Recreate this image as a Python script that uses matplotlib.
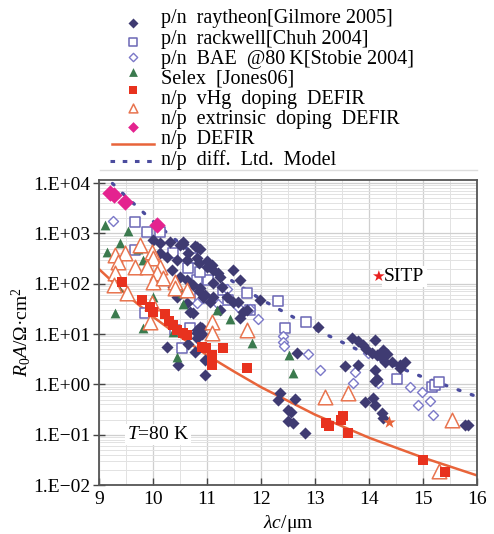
import numpy as np
import matplotlib.pyplot as plt
from matplotlib.ticker import MultipleLocator, LogLocator, NullFormatter

plt.rcParams['font.family'] = ['Liberation Serif', 'DejaVu Sans']
plt.rcParams['mathtext.fontset'] = 'custom'
plt.rcParams['mathtext.rm'] = 'Liberation Serif'
plt.rcParams['mathtext.it'] = 'Liberation Serif:italic'

# ---- data (lambda_c in um, R0A in Ohm cm^2) ----
raytheon_x = [10.0, 10.13, 10.31, 10.5, 10.56, 10.81, 10.87, 10.13, 10.26, 10.44, 10.63, 10.81,
              11.0, 11.11, 11.24, 11.48, 11.61, 10.35, 10.5, 10.63, 10.74, 10.87, 10.37, 10.44,
              10.93, 11.11, 11.24, 11.48, 11.74, 10.74, 10.87, 10.81, 10.56, 10.78, 10.65, 10.85,
              11.0, 11.1, 11.2, 11.11, 11.28, 11.37, 11.57, 11.67, 11.61, 11.98, 11.06, 10.96,
              10.85, 10.63, 10.69, 10.81, 10.9, 10.26, 10.46, 10.9, 10.81, 10.96, 10.78, 10.65,
              10.96, 12.35, 12.31, 12.63, 12.5, 12.55, 12.5, 12.59, 12.81, 12.67, 13.93, 14.07,
              14.11, 14.24, 14.26, 15.78, 15.83, 13.06, 13.69, 13.8, 13.89, 13.95, 14.11, 14.06,
              14.15, 14.26, 14.33, 14.24, 14.3, 14.43, 14.57, 14.67, 14.57, 13.56, 13.8, 14.11,
              14.15, 14.11]
raytheon_y = [740, 650, 680, 590, 680, 540, 480, 410, 340, 295, 295, 320,
              215, 185, 135, 185, 118, 185, 135, 118, 93, 81, 85, 54,
              54, 54, 30, 43, 30, 26, 14, 10.5, 620, 560, 400, 260,
              280, 240, 160, 102, 85, 54, 43, 27, 21, 47, 43, 60,
              70, 41, 27, 12, 10, 5.5, 2.4, 13, 8.3, 1.5, 4.4, 6.3,
              3.0, 0.68, 0.49, 0.51, 0.31, 0.28, 0.19, 0.17, 0.107, 4.2, 0.45, 0.54,
              0.39, 0.27, 0.21, 0.155, 0.155, 14, 8.3, 7.2, 6.0, 5.0, 7.6, 4.2,
              3.8, 4.8, 4.0, 3.3, 2.8, 2.8, 2.4, 2.8, 2.1, 2.3, 2.4, 1.9,
              1.3, 1.15]

rackwell_x = [9.67, 9.89, 10.13, 9.67, 10.37, 10.72, 10.65, 10.81, 11.02, 10.87, 10.87, 9.85,
              10.41, 10.54, 10.69, 11.3, 11.39, 11.74, 11.8, 12.31, 12.44, 12.83, 14.52, 15.17,
              15.22, 15.3]
rackwell_y = [1650, 1070, 1070, 470, 410, 320, 205, 118, 118, 170, 52, 26,
              12, 5.2, 13, 74, 47, 65, 30, 45, 13, 17, 1.3, 0.87,
              0.95, 1.1]

bae_x = [9.26, 10.81, 11.2, 11.37, 11.57, 11.8, 11.94, 12.4, 12.4, 12.43, 12.87, 13.1,
         13.74, 13.7, 13.98, 14.17, 14.76, 14.98, 14.91, 15.13, 15.19]
bae_y = [1800, 41, 40, 80, 35, 31, 20, 9.0, 6.9, 5.8, 4.0, 1.95,
         1.74, 1.05, 4.2, 1.05, 0.87, 0.72, 0.39, 0.47, 0.25]

selex_x = [9.12, 9.54, 9.39, 9.15, 9.72, 9.82, 9.35, 9.3, 10.0, 10.07, 10.54, 10.56,
           10.37, 9.82, 10.44, 11.19, 11.42, 11.83, 12.52, 12.59]
selex_y = [1500, 1100, 650, 420, 480, 300, 85, 26, 55, 130, 65, 40,
           11, 13, 3.5, 30, 20, 6.6, 3.8, 1.7]

vhg_x = [9.43, 9.8, 9.95, 10.0, 10.22, 10.3, 10.37, 10.44, 10.56, 10.63, 10.9, 10.98,
         11.09, 11.09, 11.3, 11.74, 13.2, 13.25, 13.48, 13.52, 13.62, 15.0, 15.4]
vhg_y = [107, 47, 35, 28, 25, 18, 15, 12, 10.5, 9.5, 5.5, 5.2,
         3.8, 2.4, 5.2, 2.1, 0.17, 0.15, 0.2, 0.23, 0.11, 0.031, 0.018]

extr_x = [9.76, 9.3, 9.48, 9.35, 9.67, 9.98, 10.0, 9.89, 10.13, 10.07, 9.3, 9.28,
          9.52, 10.0, 10.19, 10.41, 10.41, 10.63, 9.98, 9.94, 11.09, 11.09, 11.74, 13.19,
          13.61, 15.54, 15.3]
extr_y = [590, 370, 410, 270, 215, 430, 320, 215, 215, 160, 160, 93,
          65, 107, 130, 107, 81, 74, 41, 17, 17, 10.5, 12, 0.56,
          0.68, 0.2, 0.019]

pink_x = [9.2, 9.28, 9.48, 10.08]
pink_y = [6300, 5700, 4200, 1500]

sitp_x = [14.37]
sitp_y = [0.18]

defir_x = [9, 9.5, 10, 10.5, 11, 11.5, 12, 13, 14, 15, 16]
defir_y = [195, 62, 22, 8.9, 3.8, 1.8, 0.88, 0.25, 0.087, 0.035, 0.0155]

diff_x = [9.25, 9.5, 10, 10.5, 11, 11.5, 12, 13, 14, 15, 16]
diff_y = [9800, 5400, 1740, 630, 250, 107, 49, 12.5, 3.8, 1.39, 0.57]

ytick_vals = [1e-2, 1e-1, 1e0, 1e1, 1e2, 1e3, 1e4]
ytick_labels = ['1.E\u221202', '1.E\u221201', '1.E+00', '1.E+01', '1.E+02', '1.E+03', '1.E+04']
xtick_vals = [9, 10, 11, 12, 13, 14, 15, 16]

legend_labels = ['p/n  raytheon[Gilmore 2005]', 'p/n  rackwell[Chuh 2004]',
                 'p/n  BAE  @80\u2009K[Stobie 2004]', 'Selex  [Jones06]',
                 'n/p  vHg  doping  DEFIR', 'n/p  extrinsic  doping  DEFIR',
                 'n/p  DEFIR', 'n/p  diff.  Ltd.  Model']

# colours
c_navy = '#3f3b72'
c_rack = '#6b67b5'
c_bae = '#7b78c8'
c_green = '#3b7a4e'
c_red = '#e8321e'
c_orange = '#e8744f'
c_pink = '#e4238f'
c_line = '#e8643a'
c_dot = '#4b4c9e'

fig = plt.figure(figsize=(4.94, 5.34), dpi=100)
ax = fig.add_axes([99 / 494, 1 - 485 / 534, 378 / 494, 305 / 534])

ax.set_yscale('log')
ax.set_xlim(9, 16)
ax.set_ylim(1e-2, 1.15e4)

ax.plot(diff_x, diff_y, color=c_dot, lw=2.4, linestyle=(0, (0.6, 3.6)), dash_capstyle='round', zorder=2)
ax.plot(defir_x, defir_y, color=c_line, lw=1.8, zorder=2)

ax.scatter(rackwell_x, rackwell_y, marker='s', s=48, facecolors='white', edgecolors=c_rack, linewidths=1.1, zorder=3)
ax.scatter(bae_x, bae_y, marker='D', s=26, facecolors='white', edgecolors=c_bae, linewidths=1.0, zorder=3)
ax.scatter(raytheon_x, raytheon_y, marker='D', s=38, color=c_navy, linewidths=0, zorder=4)
ax.scatter(selex_x, selex_y, marker='^', s=50, color=c_green, linewidths=0, zorder=4)
ax.scatter(extr_x, extr_y, marker='^', s=110, facecolors='white', edgecolors=c_orange, linewidths=1.1, zorder=5)
ax.scatter(vhg_x, vhg_y, marker='s', s=50, color=c_red, linewidths=0, zorder=5)
ax.scatter(pink_x, pink_y, marker='D', s=70, color=c_pink, linewidths=0, zorder=5)
ax.scatter(sitp_x, sitp_y, marker='*', s=90, color=c_line, linewidths=0, zorder=6)

# axes styling
ax.set_yticks(ytick_vals)
ax.set_yticklabels(ytick_labels)
ax.yaxis.set_minor_locator(LogLocator(base=10, subs=np.arange(2, 10)))
ax.yaxis.set_minor_formatter(NullFormatter())
ax.set_xticks(xtick_vals)
ax.xaxis.set_minor_locator(MultipleLocator(0.5))
ax.tick_params(axis='y', which='major', direction='inout', length=8, width=1, labelsize=14, pad=2, color='#444')
ax.tick_params(axis='y', which='minor', length=0)
ax.tick_params(axis='x', which='major', direction='in', length=5, width=1, labelsize=14, pad=4, color='#444')
ax.tick_params(axis='x', which='minor', length=0)
ax.grid(True, which='major', color='#cfcfcf', lw=0.9)
ax.grid(True, which='minor', color='#e2e2e2', lw=0.7)
ax.set_axisbelow(True)
for sp in ax.spines.values():
    sp.set_color('#555555')
    sp.set_linewidth(1.3)

ax.set_xlabel('$\\lambda c$/\u03bcm', fontsize=14, labelpad=4)
ax.set_ylabel('$R_{\\rm 0}A$/\u03a9\u00b7cm$^2$', fontsize=14, labelpad=0)

ax.text(9.52, 0.1, '$T$=80 K', fontsize=14, va='center', ha='left',
        bbox=dict(facecolor='white', edgecolor='none', pad=1.5), zorder=7)
ax.text(14.17, 140, '\u2605', color='#e8201e', fontsize=11, va='center', ha='center',
        family=['DejaVu Sans'], zorder=8)
ax.text(14.28, 140, 'SITP', fontsize=14, va='center', ha='left',
        bbox=dict(facecolor='white', edgecolor='none', pad=1.5), zorder=7)

# ---- legend drawn in pixel space above the plot ----
lax = fig.add_axes([0, 1 - 175 / 534, 1, 175 / 534])
lax.set_xlim(0, 494)
lax.set_ylim(175, 0)
lax.axis('off')

mk_rows = [23, 42, 57, 72, 90, 108, 127]
mk_style = [dict(marker='D', s=26, color=c_navy, linewidths=0),
            dict(marker='s', s=30, facecolors='white', edgecolors=c_rack, linewidths=1.1),
            dict(marker='D', s=18, facecolors='white', edgecolors=c_bae, linewidths=1.0),
            dict(marker='^', s=40, color=c_green, linewidths=0),
            dict(marker='s', s=34, color=c_red, linewidths=0),
            dict(marker='^', s=40, facecolors='white', edgecolors=c_orange, linewidths=1.1),
            dict(marker='D', s=30, color=c_pink, linewidths=0)]
for yy, st in zip(mk_rows, mk_style):
    lax.scatter([133], [yy], **st)
lax.plot([112, 154], [144, 144], color=c_line, lw=1.8)
lax.plot([110, 154], [161, 161], color=c_dot, lw=2.2, linestyle=(0, (1.5, 2.5)))
for i, lab in enumerate(legend_labels):
    lax.text(161, 19 + i * 20.1, lab, fontsize=14.5, va='center', ha='left')
lax.plot([100, 477], [170, 170], color='#dddddd', lw=1)

fig.savefig('out.png', dpi=100)
